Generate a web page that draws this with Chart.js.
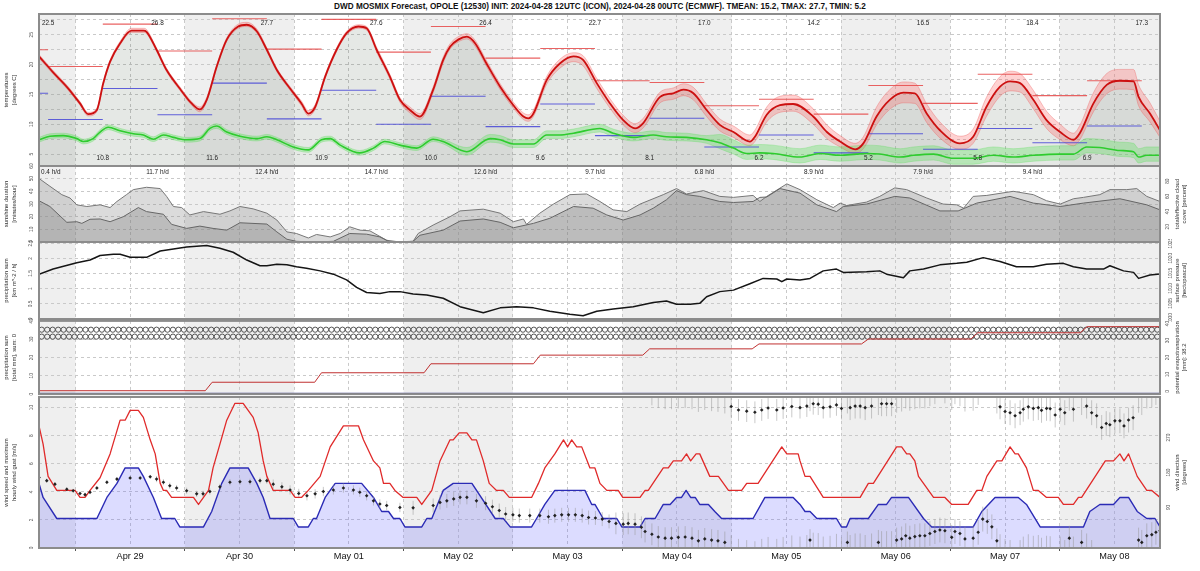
<!DOCTYPE html>
<html>
<head>
<meta charset="utf-8">
<script src="https://cdn.jsdelivr.net/npm/chart.js@4.4.1/dist/chart.umd.min.js"></script>
<style>
html, body { margin: 0; padding: 0; background: #fff; }
#wrap { position: relative; width: 1200px; height: 571px; overflow: hidden; }
#title { position: absolute; left: 0; top: 3px; width: 1200px; text-align: center; font-family: "Liberation Sans", Arial, sans-serif; font-weight: bold; color: #111; white-space: nowrap; line-height: 1; }
canvas { position: absolute; left: 0; }
</style>
</head>
<body>
<div id="wrap">
  <div id="title">DWD MOSMIX Forecast, OPOLE (12530) INIT: 2024-04-28 12UTC (ICON), 2024-04-28 00UTC (ECMWF). TMEAN: 15.2, TMAX: 27.7, TMIN: 5.2</div>
  <canvas id="cTemp" width="1200" height="158" style="top:11px"></canvas>
  <canvas id="cCloud" width="1200" height="82" style="top:163px"></canvas>
  <canvas id="cPres" width="1200" height="83" style="top:239px"></canvas>
  <canvas id="cPrec" width="1200" height="83" style="top:316px"></canvas>
  <canvas id="cWind" width="1200" height="178" style="top:393px"></canvas>
</div>
<script>
const FONT = '"Liberation Sans", Arial, sans-serif';
const HMAX = 246; // hours from 2024-04-28 16:00 local

// --- time axis ---
const dayLabels = ['Apr 29', 'Apr 30', 'May 01', 'May 02', 'May 03', 'May 04', 'May 05', 'May 06', 'May 07', 'May 08'];
const dayNoon = [20, 44, 68, 92, 116, 140, 164, 188, 212, 236];
const shadeStarts = [-16, 32, 80, 128, 176, 224];
const gridHours = [];
for (let h = 8; h < HMAX; h += 12) gridHours.push(h);

// --- temperature (mean + ensemble band) ---
const tempHours = [0,3,6.2,9,10.8,12.7,14.1,15.6,17.8,20.3,22.9,23.6,25.8,28,30.9,33.5,35.3,36.8,39,41.2,43.7,45.6,47.8,50,52.2,55.1,57.6,59.1,60.6,62.8,65.3,67.5,70.1,71.9,74.1,77,79.2,81.4,83.6,86.5,88.7,90.2,92,93.9,95.7,98.2,101.2,104.1,106.3,107.4,108.5,111.4,114.3,117.3,119.4,122.4,125.3,128.2,130.8,132.6,136.3,139.2,141.4,143.6,146.5,149.4,152.4,156,157.1,159.7,162.6,165.5,169.9,172.9,175.8,179.1,180.9,183.8,186.7,189.7,192.2,194.8,197.7,202.1,205,207.9,210.9,213.1,215.3,218.2,221.1,224.1,227,228.4,231.4,234.3,237.2,240.2,241.3,243.8,246];
const tempMean = [21.4,18.8,16.2,13.5,11.7,12.4,16.9,20.5,23.6,25.7,25.7,25.5,22.5,19.1,16.0,13.5,12.5,14.1,19.7,24.2,26.4,26.7,25.6,22.5,19.1,16.0,13.5,11.8,12.9,18.0,22.5,25.3,26.4,26.1,22.5,18.0,14.1,12.4,11.3,15.8,20.8,23.0,24.2,24.7,23.6,20.2,16.3,13.2,11.3,11.0,11.8,17.4,20.2,21.4,20.8,16.9,13.5,10.7,9.3,10.2,14.6,15.2,15.8,15.2,12.4,9.9,8.7,7.1,7.9,11.6,13.2,13.4,11.3,8.7,7.1,5.8,6.8,11.3,14.1,15.3,15.2,11.8,9.0,6.8,7.9,12.9,16.3,17.2,16.9,14.1,10.7,8.7,7.4,8.5,13.5,16.6,17.3,17.2,14.6,11.8,9.0];
const tempHi = [21.7,19.1,16.5,13.8,12.0,12.7,17.2,20.8,23.9,26.1,26.1,25.9,22.8,19.4,16.3,13.8,12.9,14.5,20.0,24.5,26.8,27.1,26.0,22.8,19.4,16.3,13.9,12.3,13.3,18.3,22.8,25.6,26.7,26.4,22.9,18.4,14.5,12.9,11.8,16.3,21.3,23.5,24.7,25.2,24.1,20.7,16.8,13.7,11.9,11.6,12.4,18.0,20.9,22.0,21.5,17.7,14.3,11.5,10.1,11.0,15.4,16.1,16.8,16.2,13.4,10.9,9.7,8.2,9.0,12.9,14.7,14.9,12.6,9.9,8.1,6.8,7.9,12.9,15.8,17.1,16.9,13.4,10.4,8.0,9.2,14.5,18.0,18.9,18.5,15.7,12.2,10.0,8.5,9.8,15.3,18.5,19.2,19.2,16.6,13.6,10.5];
const tempLo = [21.1,18.5,15.9,13.2,11.4,12.1,16.6,20.2,23.3,25.4,25.4,25.2,22.2,18.8,15.7,13.2,12.1,13.8,19.4,23.9,26.1,26.4,25.3,22.2,18.8,15.7,13.1,11.4,12.5,17.7,22.2,25.0,26.1,25.8,22.1,17.6,13.7,11.9,10.8,15.3,20.3,22.6,23.8,24.3,23.1,19.7,15.8,12.7,10.8,10.5,11.3,16.7,19.4,20.5,19.8,16.0,12.7,9.9,8.6,9.4,13.6,14.2,14.8,14.1,11.3,8.9,7.8,6.4,7.1,10.4,12.0,12.2,10.0,7.6,6.2,5.1,5.9,9.9,12.5,13.6,13.5,10.3,7.7,5.8,6.8,11.3,14.7,15.6,15.4,12.6,9.3,7.4,6.4,7.4,12.1,15.1,15.9,15.8,13.1,10.4,7.8];

// --- dew point (mean + band) ---
const dewHours = [0,2.4,5.3,8.3,9.7,11.9,13.4,15.2,17.8,20.7,22.9,25.1,27.3,29.5,32.4,35.3,37.5,39,41.2,44.1,47.8,50,52.2,55.8,59.1,62,63.9,66.1,70.4,73.4,75.9,79.2,82.9,86.5,88.7,93.9,99,101.2,104.1,108.5,111.4,114.3,117.3,123.1,126,130.4,134.8,137.7,142.1,146.5,149.4,152.4,155.3,158.2,161.1,167,171.4,175.8,179.4,181.6,184.5,189,191.9,196.3,200.6,205,209.4,213.8,218.2,224.1,227,229.9,232.8,237.2,240.2,241.3,243.1,246];
const dewMean = [7.4,8.0,8.1,7.6,7.1,7.6,8.7,9.5,8.9,8.4,8.2,7.5,8.2,7.8,7.4,7.6,9.3,9.7,8.7,8.0,7.6,7.9,7.4,6.2,5.7,7.4,7.6,6.5,5.2,6.0,7.1,6.5,6.0,7.5,7.1,5.4,7.6,7.4,6.7,6.7,8.2,8.2,8.5,9.3,8.5,7.8,8.2,7.9,7.8,7.4,6.9,6.0,5.1,5.2,5.1,4.5,5.1,4.8,5.0,5.1,5.0,4.5,4.8,5.0,4.3,4.3,4.8,4.5,4.8,5.0,5.0,6.2,6.1,5.6,5.4,4.5,4.8,4.8];
const dewHi = [7.8,8.4,8.5,8.0,7.5,8.0,9.1,9.9,9.3,8.8,8.6,7.9,8.6,8.2,7.8,8.0,9.7,10.1,9.1,8.4,8.0,8.3,7.8,6.6,6.1,7.8,8.0,6.9,5.6,6.4,7.5,6.9,6.4,7.9,7.5,6.1,8.3,8.1,7.4,7.4,8.9,8.9,9.2,10.0,9.2,8.5,8.9,8.6,8.5,8.1,8.3,7.4,6.5,6.6,6.5,5.9,6.5,6.2,6.4,6.5,6.4,5.9,6.2,6.4,5.7,5.7,6.2,5.9,6.2,6.4,6.4,7.6,7.5,7.0,6.8,5.9,6.2,6.2];
const dewLo = [7.0,7.6,7.7,7.2,6.7,7.2,8.3,9.1,8.5,8.0,7.8,7.1,7.8,7.4,7.0,7.2,8.9,9.3,8.3,7.6,7.2,7.5,7.0,5.8,5.3,7.0,7.2,6.1,4.8,5.6,6.7,6.1,5.6,7.1,6.7,4.8,7.0,6.8,6.1,6.1,7.6,7.6,7.9,8.7,7.9,7.2,7.6,7.3,7.2,6.8,5.9,5.0,4.1,4.2,4.1,3.5,4.1,3.8,4.0,4.1,4.0,3.5,3.8,4.0,3.3,3.3,3.8,3.5,3.8,4.0,4.0,5.2,5.1,4.6,4.4,3.5,3.8,3.8];

// --- 12-hourly MOSMIX extremes (18-06 / 06-18) ---
const periodStart = [0,2,14,26,38,50,62,74,86,98,110,122,134,146,158,170,182,194,206,218,230];
const periodEnd = [2,14,26,38,50,62,74,86,98,110,122,134,146,158,170,182,194,206,218,230,242];
const periodTmax = [22.5,19.7,26.8,22.3,27.7,22.6,27.6,22.1,26.4,21.1,22.7,17.3,17.0,13.1,14.2,11.7,16.5,13.5,18.4,14.8,17.3];
const periodTmin = [15.2,10.8,16.0,11.6,16.9,10.9,15.7,10.0,14.7,9.6,13.4,8.1,11.0,6.2,8.2,5.2,8.4,5.8,9.3,6.9,9.7];

// --- sunshine per day ---
const sunHours = [2,26,50,74,98,122,146,170,194,218];
const sunPerDay = [0.4,11.7,12.4,14.7,12.6,9.7,6.8,8.9,7.9,9.4];

// --- cloud cover ---
const cloudTotHours = [0,2.4,5.0,6.8,8.3,10.5,13.4,15.6,17.1,19.2,20.7,23.6,26.6,28.0,29.5,31.3,33.1,36.1,39.7,41.9,44.1,47.0,50.0,52.2,54.4,56.5,59.1,60.9,63.9,66.1,68.2,70.4,72.6,76.3,79.2,82.1,83.2,86.5,90.2,92.4,97.5,101.2,104.1,106.3,107.0,109.9,112.9,116.5,120.2,123.1,126.0,129.0,131.9,137.0,139.9,142.1,145.8,149.4,152.4,156.7,158.2,159.7,164.1,167.0,170.7,174.3,175.8,177.2,181.6,184.5,187.8,190.4,194.8,198.4,201.4,202.9,205.0,208.0,213.8,218.2,221.1,224.1,227.0,229.2,232.8,235.0,238.7,240.9,243.1,246];
const cloudTotal = [83.6,73.3,62.3,57.9,48.9,46.7,48.9,45.3,53.3,62.3,68.9,72.0,70.3,60.0,46.7,45.3,35.6,40.0,36.5,40.9,46.7,43.6,37.9,28.9,13.3,11.2,5.3,9.9,6.7,11.2,20.0,15.6,14.7,2.3,0,0.9,11.2,22.3,33.3,40.9,43.2,37.9,26.7,30.3,23.2,37.9,49.9,62.3,63.2,53.3,42.3,40.0,49.9,62.3,70.3,63.2,67.6,60.0,58.7,61.3,53.3,60.0,76.5,68.9,55.6,45.3,51.2,48.0,52.5,60.0,71.2,68.9,57.9,49.9,48.9,44.5,60.0,61.3,66.7,62.3,54.3,49.9,56.9,58.7,62.3,68.9,68.9,70.3,60.0,53.3];
const cloudEffHours = [0,2.4,6.1,8.3,9.4,11.2,13.4,15.6,18.5,21.8,23.6,27.3,29.1,32.4,35.3,38.2,41.2,44.1,50.0,52.2,54.4,56.5,60.2,64.6,68.2,71.9,74.8,77.0,82.1,83.6,88.7,92.4,97.5,101.2,104.1,108.5,112.1,117.3,121.6,124.6,128.2,131.9,134.8,137.7,139.9,142.1,145.0,149.4,152.4,156.7,158.2,159.7,162.6,167.0,170.7,175.0,176.5,181.6,187.8,191.1,197.7,201.7,205.8,213.1,218.2,224.1,229.2,237.2,243.1,246];
const cloudEff = [54.3,46.7,25.9,26.7,24.5,29.9,30.3,26.7,33.3,45.3,40.0,36.5,23.2,17.9,20.9,17.9,15.6,25.3,23.6,13.3,3.6,0.9,0,0.9,11.2,10.3,6.7,0,0.9,8.9,15.6,27.6,30.3,25.9,18.7,24.5,31.2,46.7,44.5,35.6,28.9,35.6,44.5,55.6,67.6,62.3,60.0,53.3,52.0,53.3,58.7,59.2,70.3,64.3,48.9,40.0,46.7,49.9,60.0,57.9,40.9,40.9,51.2,60.0,51.2,46.7,51.2,56.9,48.9,42.3];

// --- surface pressure ---
const presHours = [0,3.1,8.3,11.2,13.4,16.3,17.8,20.0,23.6,26.6,29.5,32.4,36.8,39.7,42.6,45.6,48.5,50.0,52.2,54.4,56.5,58.7,61.7,64.6,67.5,69.7,71.9,74.8,77.0,79.2,82.1,85.1,88.7,92.4,97.5,101.2,104.8,108.5,112.1,116.5,119.4,122.4,126.0,130.4,134.8,137.7,139.9,142.9,145.0,146.5,149.4,152.4,156.0,158.9,161.9,163.0,164.1,167.0,169.2,172.1,175.0,176.5,181.6,184.5,186.0,189.7,191.1,194.1,197.7,201.4,203.6,207.2,210.9,214.5,218.2,221.1,224.8,227.0,229.9,233.6,235.0,238.0,240.2,241.3,243.8,246];
const presHpa = [1014.7,1016.4,1018.5,1019.4,1020.9,1021.3,1021.3,1020.3,1020.3,1022.4,1023.1,1023.7,1024.2,1023.3,1022.0,1019.4,1017.5,1017.5,1018.0,1017.8,1017.2,1016.7,1015.8,1014.7,1012.8,1010.3,1008.6,1008.3,1008.9,1008.9,1008.1,1007.8,1006.7,1003.9,1001.9,1003.5,1003.9,1003.5,1002.4,1001.4,1000.9,1002.4,1003.1,1003.9,1005.3,1005.8,1004.7,1004.7,1005.0,1007.2,1008.9,1009.4,1011.5,1013.3,1013.1,1012.2,1013.1,1012.8,1013.3,1015.8,1016.4,1015.3,1015.5,1015.8,1014.7,1013.5,1015.8,1016.4,1017.8,1018.3,1018.7,1020.2,1018.9,1017.2,1017.2,1018.0,1018.3,1017.2,1016.4,1016.4,1017.5,1015.8,1015.3,1013.3,1014.4,1014.8];

// --- precipitation / evapotranspiration ---
const precipHours = [0, 246];
const precipSum = [0, 0];
const petStepHours = [38, 62, 86, 110, 134, 158, 182, 206, 230];
const petLevels = [0.4, 5.4, 11.0, 16.3, 21.4, 25.1, 28.0, 30.9, 34.6, 38.2];
const symbolRows = [35.2, 31.4];
const symbolStep = 1.2;

// --- wind ---
const gustHours = [0,0.9,2.0,3.9,7.9,9.0,10.1,11.2,13.4,15.6,17.8,18.9,20.0,21.8,22.9,24.4,25.5,26.6,27.3,28.0,29.1,33.9,35.0,36.1,37.2,38.2,39.7,41.2,43.0,44.8,47.0,48.1,49.2,50.0,51.4,55.1,56.2,57.6,59.1,61.7,63.9,66.8,70.1,71.2,73.4,74.8,75.6,77.0,78.1,79.9,82.9,84.0,85.1,86.2,88.0,90.2,90.9,92.2,93.9,95.0,96.0,97.5,98.8,100.4,101.9,103.2,108.1,109.6,111.0,113.2,115.1,116.0,116.9,118.0,119.1,120.9,122.0,123.1,124.6,127.1,128.1,131.9,133.0,133.7,137.0,138.1,139.2,141.0,142.1,143.0,144.2,145.0,147.2,149.1,151.3,154.2,155.3,157.8,163.0,164.1,166.6,167.0,168.1,169.2,172.1,180.2,182.0,183.1,188.2,189.3,190.4,191.1,192.2,193.0,196.3,198.8,200.3,203.9,205.8,206.9,208.0,210.2,211.3,213.1,214.2,214.9,216.7,218.2,219.3,221.1,223.7,224.8,227.0,228.1,228.8,234.0,235.8,237.2,238.1,239.1,241.0,243.1,244.2,246];
const gustMs = [8.7,7.4,5.1,4.1,4.1,3.6,3.6,4.1,5.0,6.7,9.1,9.1,9.8,9.8,9.3,7.7,6.7,4.6,4.1,4.1,3.6,3.6,3.1,3.6,4.1,5.7,7.4,9.1,10.3,10.3,9.3,8.2,6.2,5.1,4.1,4.1,3.6,3.6,4.1,5.1,7.2,8.7,8.7,7.7,6.2,5.7,4.6,4.6,4.1,3.6,3.6,3.1,3.6,4.1,6.2,7.7,7.7,8.2,8.2,7.7,7.7,6.2,4.6,4.1,4.1,3.6,3.6,4.6,5.7,6.7,7.7,7.2,7.7,7.2,7.2,5.7,5.7,4.6,4.1,4.1,3.6,3.6,4.1,4.1,5.7,5.7,6.2,6.2,6.7,6.2,6.7,6.7,5.1,5.1,4.1,4.1,4.6,4.6,7.2,6.7,6.7,6.2,5.1,5.1,3.6,3.6,4.6,4.6,7.2,7.2,6.7,6.7,6.2,5.1,3.6,3.6,3.1,3.1,4.1,4.1,5.1,6.2,6.2,7.2,6.7,6.7,5.7,4.1,4.1,3.6,3.6,3.1,3.1,3.6,3.6,6.2,6.2,6.7,6.2,6.7,5.1,4.1,4.1,3.6];
const speedHours = [0,0.9,3.9,12.7,14.9,17.1,18.9,21.8,22.9,25.1,26.9,29.8,30.9,36.1,37.9,40.1,41.9,45.9,47.8,49.2,50.7,55.8,56.9,59.1,60.2,60.9,62.8,65.0,70.8,73.4,75.2,76.7,77.8,79.2,80.3,84.0,85.1,86.2,88.7,90.9,95.0,100.1,101.9,103.4,108.1,109.2,111.0,113.2,119.8,121.3,122.0,123.8,126.8,127.9,131.9,133.0,135.2,137.0,138.5,139.9,141.0,142.0,143.0,144.0,145.0,146.9,148.3,149.8,156.7,159.3,165.5,167.0,168.1,169.2,170.7,175.0,176.1,177.2,178.0,182.0,184.2,186.0,187.1,190.8,194.1,195.9,205.0,206.9,209.8,214.9,216.7,219.7,229.2,230.6,232.8,235.8,237.2,239.1,241.0,243.1,244.9,246];
const speedMs = [4.6,3.6,2.1,2.1,3.6,4.6,5.7,5.7,5.1,3.6,2.1,2.1,1.5,1.5,2.6,4.6,5.7,5.7,4.6,3.6,2.1,2.1,1.5,1.5,2.1,2.1,3.6,4.6,4.6,3.6,2.6,2.6,2.1,2.1,1.5,1.5,2.1,2.1,4.1,4.6,4.6,2.1,2.1,1.5,1.5,2.1,3.1,4.1,4.1,3.1,3.1,2.1,2.1,1.5,1.5,2.1,2.1,3.1,3.1,3.6,3.6,4.1,3.6,3.6,3.1,3.1,2.6,2.1,2.1,3.6,3.6,3.1,2.6,2.6,2.1,2.1,1.5,1.5,2.1,2.1,3.1,3.1,3.6,3.6,2.1,1.5,1.5,2.6,3.6,3.6,3.1,1.5,1.5,2.6,3.1,3.1,3.6,3.6,2.6,2.1,2.1,1.5];
const dirHours = [0,1.7,3.5,6.1,7.5,9.0,10.1,11.2,12.7,14.9,17.1,20.0,22.2,24.4,25.8,27.3,28.7,30.2,32.4,34.6,36.0,37.5,39.7,41.9,44.1,46.3,48.5,50.0,51.4,53.3,55.1,57.0,58.8,60.6,62.4,64.6,66.8,69.0,70.4,71.9,73.4,74.8,76.3,79.2,82.1,86.5,88.0,89.5,91.0,92.4,93.9,96.0,98.0,99.5,101.0,102.4,104.0,105.4,107.7,109.9,111.8,113.2,114.7,116.2,117.7,119.2,120.6,122.1,123.6,125.1,126.6,128.2,129.3,130.8,132.2,133.0,134.5,135.9,137.4,138.8,140.3,141.8,143.3,144.7,146.1,147.6,149.0,150.5,151.9,153.5,155.3,157.1,158.6,160.0,161.9,163.3,165.2,167.0,168.5,169.2,169.9,171.0,172.1,173.6,175.0,176.1,177.4,178.0,179.1,180.2,181.3,182.7,184.2,184.9,186.0,187.1,188.2,189.3,190.2,191.1,192.2,193.3,194.4,195.5,196.6,197.7,198.8,200.3,201.0,202.1,203.2,205.0,206.1,207.1,208.1,209.1,210.2,210.9,212.0,213.1,214.2,215.3,216.0,217.1,218.2,219.3,220.0,221.1,221.9,223.0,224.1,225.1,226.1,227.0,228.8,229.9,231.0,232.1,233.2,234.2,235.0,236.1,237.2,238.1,239.1,240.1,241.3,242.0,243.1,244.2,245.1,246.0];
const dirDeg = [167,159,150,137,133,126,123,129,140,155,163,166,166,169,163,155,146,140,133,125,125,131,143,155,156,156,159,159,150,143,135,126,120,125,131,135,140,135,129,120,107,99,95,90,89,95,103,107,112,116,116,107,101,92,82,73,71,69,69,69,66,69,71,71,71,69,64,63,60,54,49,47,49,47,39,28,21,14,11,11,13,14,11,4,9,6,4,0,350,341,338,335,341,346,341,346,350,347,351,6,357,356,347,349,354,345,0,347,351,351,347,351,0,357,357,357,6,9,17,11,15,17,17,23,28,32,30,13,28,23,9,11,26,60,54,40,4,349,337,334,326,334,343,349,345,347,340,345,344,328,343,334,11,343,0,351,334,326,296,306,303,313,313,300,315,321,6,0,17,20,26,30];
const dirSpread = [5,5,5,5,5,5,5,5,5,5,5,5,5,5,8,8,8,8,8,8,8,8,8,8,8,8,8,8,12,12,12,12,12,12,12,12,12,12,12,12,12,12,12,12,18,18,18,18,18,18,18,18,18,18,18,18,18,18,18,18,18,18,18,18,18,18,18,18,18,18,28,28,28,28,28,28,28,28,28,28,28,28,28,28,28,28,28,28,28,28,28,28,28,28,28,28,28,28,28,28,28,28,28,28,28,28,28,32,32,32,32,32,32,32,32,32,32,32,32,32,32,32,32,32,32,32,32,32,32,32,32,32,32,32,32,32,32,32,32,32,32,32,32,32,32,32,32,32,32,32,32,32,32,32,32,32,32,32,32,32,32,32,32,32,32,32,32,32,32,32,32];

// --- helpers ---
const pts = (xs, ys) => xs.map((x, i) => ({ x, y: ys[i] }));

function segments(starts, ends, vals) {
  const d = [];
  vals.forEach((v, i) => d.push({ x: starts[i], y: v }, { x: ends[i], y: v }, { x: ends[i], y: null }));
  return d;
}

function stepData(hours, levels) {
  const d = [{ x: 0, y: levels[0] }];
  hours.forEach((h, i) => d.push({ x: h - 1.5, y: levels[i] }, { x: h, y: levels[i + 1] }));
  d.push({ x: HMAX, y: levels[levels.length - 1] });
  return d;
}

function spreadLines(hours, dirs, spread) {
  const d = [];
  hours.forEach((h, i) => {
    const lo = dirs[i] - spread[i], hi = dirs[i] + spread[i];
    const parts = [[lo, hi]];
    if (lo < 0) parts.push([lo + 360, hi + 360]);
    if (hi > 360) parts.push([lo - 360, hi - 360]);
    parts.forEach(p => d.push({ x: h, y: p[0] }, { x: h, y: p[1] }, { x: h, y: null }));
  });
  return d;
}

const symbolHours = [];
for (let h = symbolStep / 2; h < HMAX; h += symbolStep) symbolHours.push(h);

// --- plugin: day shading, frame, panel texts, axis titles ---
const meteo = {
  id: 'meteo',
  beforeDraw(chart) {
    const { ctx, chartArea: a, scales: { x } } = chart;
    ctx.save();
    ctx.fillStyle = '#efefef';
    shadeStarts.forEach(s => {
      const x0 = Math.max(a.left, x.getPixelForValue(s));
      const x1 = Math.min(a.right, x.getPixelForValue(s + 24));
      if (x1 > x0) ctx.fillRect(x0, a.top, x1 - x0, a.bottom - a.top);
    });
    ctx.restore();
  },
  afterDraw(chart, args, o) {
    const { ctx, chartArea: a, scales: { x } } = chart;
    ctx.save();
    ctx.textAlign = 'center';
    ctx.textBaseline = 'middle';
    ctx.fillStyle = '#222';
    (o.texts || []).forEach(t => {
      ctx.font = '6.4px ' + FONT;
      const w = ctx.measureText(t.text).width;
      const px = Math.max(x.getPixelForValue(t.h), a.left + w / 2 + 2);
      const py = t.top != null ? a.top + t.top : a.bottom - t.bottom;
      ctx.fillText(t.text, px, py);
    });
    ctx.strokeStyle = '#8c8c8c';
    ctx.lineWidth = 2;
    ctx.strokeRect(a.left, a.top, a.right - a.left, a.bottom - a.top);
    const cy = (a.top + a.bottom) / 2;
    ctx.font = '5.9px ' + FONT;
    ctx.fillStyle = '#333';
    const drawTitle = (lines, xs) => (lines || []).forEach((ln, i) => {
      ctx.save();
      ctx.translate(xs[i], cy);
      ctx.rotate(-Math.PI / 2);
      ctx.fillText(ln, 0, 0);
      ctx.restore();
    });
    drawTitle(o.left, [6.5, 14]);
    drawTitle(o.right, [1177, 1184.5]);
    ctx.restore();
  }
};
Chart.register(meteo);

// --- axes ---
function xAxis(showDates) {
  return {
    type: 'linear', min: 0, max: HMAX,
    afterBuildTicks: s => { s.ticks = gridHours.map(v => ({ value: v })); },
    afterFit: s => { s.height = showDates ? 20 : 0; s.paddingLeft = 0; s.paddingRight = 0; },
    grid: {
      color: '#c9c9c9', lineWidth: 1, drawTicks: showDates, tickLength: 3, tickWidth: 1, tickBorderDash: [],
      tickColor: c => (c.tick && (c.tick.value - 8) % 24 === 0) ? '#555' : 'rgba(0,0,0,0)'
    },
    border: { display: false, dash: [3, 3] },
    ticks: {
      display: showDates, autoSkip: false, maxRotation: 0, minRotation: 0, padding: 0,
      color: '#111', font: { size: 9.2, family: FONT },
      callback: v => { const i = dayNoon.indexOf(v); return i >= 0 ? dayLabels[i] : ''; }
    }
  };
}

function yAxis(pos, min, max, ticks, label) {
  return {
    position: pos, min, max,
    afterBuildTicks: s => { s.ticks = ticks.map(v => ({ value: v })); },
    afterFit: s => { s.width = pos === 'left' ? 39 : 40; s.paddingTop = 0; s.paddingBottom = 0; },
    grid: { display: pos === 'left', color: '#c9c9c9', drawTicks: false },
    border: { display: false, dash: [3, 3] },
    ticks: {
      autoSkip: false, minRotation: 90, maxRotation: 90, crossAlign: 'center', padding: 5,
      color: '#555', font: { size: 4.8, family: FONT },
      callback: label || (v => v)
    }
  };
}

function options(p) {
  const scales = { x: xAxis(!!p.dates), y: p.y };
  if (p.y2) scales.y2 = p.y2;
  return {
    responsive: false, animation: false, devicePixelRatio: 1, events: [],
    layout: { padding: { top: 3, bottom: 3, left: 0, right: p.y2 ? 0 : 40 } },
    elements: { point: { radius: 0 }, line: { borderJoinStyle: 'round' } },
    plugins: { legend: { display: false }, tooltip: { enabled: false }, meteo: p.meteo },
    scales
  };
}

const line = (data, o) => Object.assign({ type: 'line', data, pointRadius: 0, fill: false, borderWidth: 1 }, o);

// --- panel 1: temperatures ---
const tempTexts = [];
periodTmax.forEach((v, i) => { if (i % 2 === 0) tempTexts.push({ h: periodEnd[i], top: 9, text: v.toFixed(1) }); });
periodTmin.forEach((v, i) => { if (i % 2 === 1) tempTexts.push({ h: periodEnd[i], bottom: 8, text: v.toFixed(1) }); });

new Chart(document.getElementById('cTemp'), {
  data: {
    datasets: [
      line(pts(tempHours, tempMean), { fill: 'start', backgroundColor: 'rgba(55,80,55,0.13)', borderWidth: 0, cubicInterpolationMode: 'monotone', order: 20 }),
      line(pts(tempHours, tempLo), { borderColor: 'rgba(235,90,90,0.45)', borderWidth: 0.8, cubicInterpolationMode: 'monotone', order: 19 }),
      line(pts(tempHours, tempHi), { borderColor: 'rgba(235,90,90,0.45)', borderWidth: 0.8, fill: { target: 1 }, backgroundColor: 'rgba(255,90,90,0.27)', cubicInterpolationMode: 'monotone', order: 18 }),
      line(pts(dewHours, dewLo), { borderColor: 'rgba(90,220,90,0.4)', borderWidth: 0.8, cubicInterpolationMode: 'monotone', order: 17 }),
      line(pts(dewHours, dewHi), { borderColor: 'rgba(90,220,90,0.4)', borderWidth: 0.8, fill: { target: 3 }, backgroundColor: 'rgba(90,225,90,0.33)', cubicInterpolationMode: 'monotone', order: 16 }),
      line(segments(periodStart, periodEnd, periodTmax), { borderColor: 'rgba(230,70,70,0.85)', borderWidth: 1.1, spanGaps: false, order: 6 }),
      line(segments(periodStart, periodEnd, periodTmin), { borderColor: 'rgba(70,70,215,0.85)', borderWidth: 1.1, spanGaps: false, order: 5 }),
      line(pts(dewHours, dewMean), { borderColor: '#2ecc2e', borderWidth: 1.6, cubicInterpolationMode: 'monotone', order: 2 }),
      line(pts(tempHours, tempMean), { borderColor: '#cc1010', borderWidth: 1.8, cubicInterpolationMode: 'monotone', order: 1 })
    ]
  },
  options: options({
    y: yAxis('left', 3.0, 28.5, [5, 7.5, 10, 12.5, 15, 17.5, 20, 22.5, 25, 27.5], v => (v % 5 === 0 ? v : '')),
    meteo: { texts: tempTexts, left: ['temperatures', '[degrees C]'] }
  })
});

// --- panel 2: sunshine / cloud cover ---
new Chart(document.getElementById('cCloud'), {
  data: {
    datasets: [
      line(pts(cloudTotHours, cloudTotal), { yAxisID: 'y2', fill: 'start', backgroundColor: 'rgba(135,135,135,0.3)', borderColor: '#777', borderWidth: 1, order: 2 }),
      line(pts(cloudEffHours, cloudEff), { yAxisID: 'y2', fill: 'start', backgroundColor: 'rgba(115,115,115,0.3)', borderColor: '#666', borderWidth: 1, order: 1 })
    ]
  },
  options: options({
    y: yAxis('left', 0, 60, [0, 10, 20, 30, 40, 50, 60]),
    y2: yAxis('right', 0, 100, [20, 40, 60, 80]),
    meteo: {
      texts: sunHours.map((h, i) => ({ h, top: 6, text: sunPerDay[i].toFixed(1) + ' h/d' })),
      left: ['sunshine duration', '[minutes/hour]'],
      right: ['total/effective cloud', 'cover [percent]']
    }
  })
});

// --- panel 3: pressure ---
new Chart(document.getElementById('cPres'), {
  data: {
    datasets: [
      line(pts(presHours, presHpa), { yAxisID: 'y2', borderColor: '#151515', borderWidth: 1.5 })
    ]
  },
  options: options({
    y: yAxis('left', 0, 2.54, [0, 0.5, 1, 1.5, 2, 2.5]),
    y2: yAxis('right', 999.8, 1025.4, [1000, 1005, 1010, 1015, 1020, 1025]),
    meteo: { left: ['precipitation sum', '[km m^-2 / h]'], right: ['surface pressure', '[hectopascal]'] }
  })
});

// --- panel 4: precipitation sum / evapotranspiration ---
const symbolDatasets = symbolRows.map(v => line(symbolHours.map(h => ({ x: h, y: v })), {
  showLine: false, pointRadius: 2.6, pointStyle: 'circle', pointBackgroundColor: 'rgba(0,0,0,0)',
  pointBorderColor: '#444', pointBorderWidth: 0.9, order: 3
}));

new Chart(document.getElementById('cPrec'), {
  data: {
    datasets: [
      ...symbolDatasets,
      line(stepData(petStepHours, petLevels), { yAxisID: 'y2', borderColor: '#c03030', borderWidth: 1, order: 2 }),
      line(pts(precipHours, precipSum), { borderColor: '#4a4a90', borderWidth: 2.5, order: 1 })
    ]
  },
  options: options({
    y: yAxis('left', 0, 40, [0, 10, 20, 30, 40]),
    y2: yAxis('right', -1.6, 41.6, [0, 10, 20, 30, 40]),
    meteo: { left: ['precipitation sum', '[total mm], sum: 0'], right: ['potential evapotranspiration', '[mm]: 38.2'] }
  })
});

// --- panel 5: wind ---
const windOpts = options({
  dates: true,
  y: yAxis('left', 0, 10.75, [0, 2, 4, 6, 8, 10]),
  y2: yAxis('right', -14.4, 374.4, [90, 180, 270]),
  meteo: { left: ['wind speed and maximum', 'hourly wind gust [m/s]'], right: ['wind direction', '[degrees]'] }
});

new Chart(document.getElementById('cWind'), {
  data: {
    datasets: [
      line(pts(speedHours, speedMs), { fill: 'start', backgroundColor: 'rgba(95,95,255,0.22)', borderColor: '#2b2bb5', borderWidth: 1.4, order: 4 }),
      line(spreadLines(dirHours, dirDeg, dirSpread), { yAxisID: 'y2', borderColor: 'rgba(150,150,150,0.5)', borderWidth: 1, spanGaps: false, order: 3 }),
      line(pts(gustHours, gustMs), { borderColor: '#e02a2a', borderWidth: 1.3, order: 2 }),
      line(pts(dirHours, dirDeg), { yAxisID: 'y2', showLine: false, pointRadius: 1.8, pointStyle: 'rectRot', pointBackgroundColor: '#222', pointBorderWidth: 0, order: 1 })
    ]
  },
  options: windOpts
});

// --- fit title width ---
(function () {
  const el = document.getElementById('title');
  const span = document.createElement('span');
  span.textContent = el.textContent;
  span.style.font = 'bold 10px ' + FONT;
  span.style.visibility = 'hidden';
  span.style.position = 'absolute';
  document.body.appendChild(span);
  const tw = span.getBoundingClientRect().width;
  span.remove();
  el.style.fontSize = (10 * 533 / tw).toFixed(2) + 'px';
})();
</script>
</body>
</html>
